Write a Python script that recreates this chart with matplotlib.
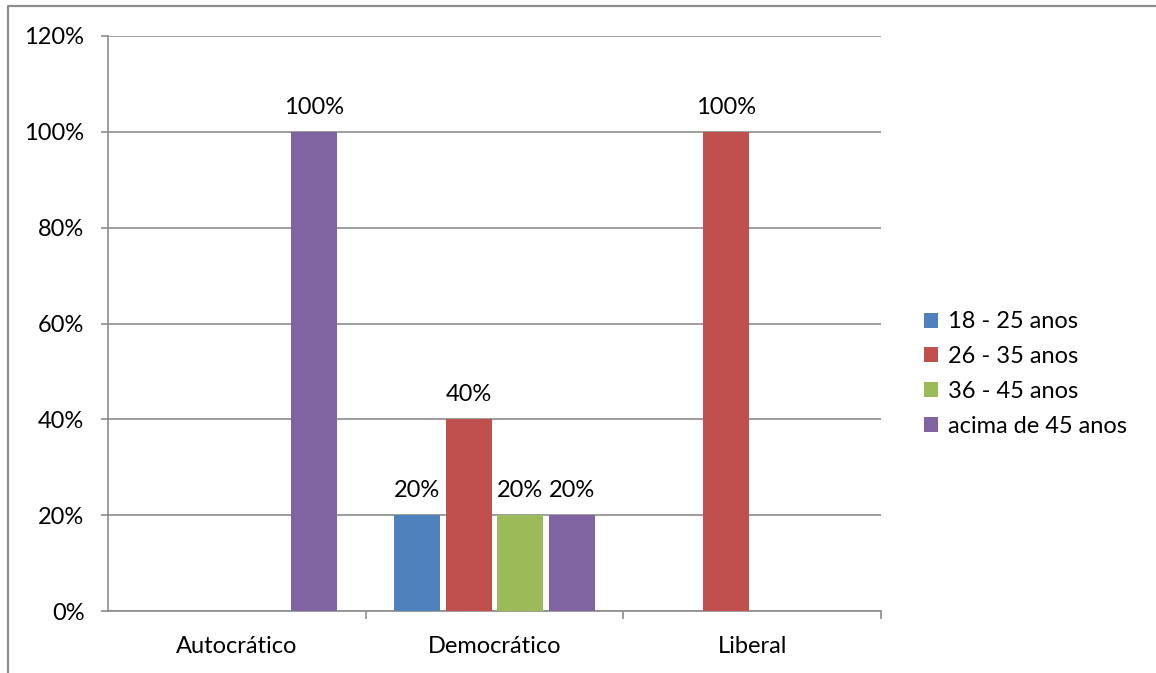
import numpy as np
import matplotlib.pyplot as plt
from matplotlib.lines import Line2D

plt.rcParams['font.family'] = ['Lato', 'DejaVu Sans']

categories = ['Autocrático', 'Democrático', 'Liberal']
series_names = ['18 - 25 anos', '26 - 35 anos', '36 - 45 anos', 'acima de 45 anos']
# blank cells are None (no bar, no label)
values = [
    [None, 20, None],
    [None, 40, 100],
    [None, 20, None],
    [100, 20, None],
]
colors = ['#4F81BD', '#C0504D', '#9BBB59', '#8064A2']
yticks = [0, 20, 40, 60, 80, 100, 120]

fig = plt.figure(figsize=(11.56, 6.73), dpi=100)
ax = fig.add_axes([108/1156, 1 - 611/673, (881-108)/1156, (611-36)/673])

x = np.arange(len(categories))
step = 0.2
width = 0.178
grid_c = '#8C8C8C'
fs = 17

for i, (name, vals, c) in enumerate(zip(series_names, values, colors)):
    offs = (i - 1.5) * step
    xs = [xx + offs for xx, v in zip(x, vals) if v is not None]
    hs = [v for v in vals if v is not None]
    bars = ax.bar(xs, hs, width=width, color=c, label=name, zorder=3)
    ax.bar_label(bars, labels=[f'{v}%' for v in hs], padding=10, fontsize=fs)

ax.set_xlim(-0.5, 2.5)
ax.set_ylim(0, 120)
ax.set_yticks(yticks)
ax.set_yticklabels([f'{t}%' for t in yticks], fontsize=fs)
ax.yaxis.grid(True, color=grid_c, linewidth=1.2, zorder=0)
ax.set_axisbelow(True)

ax.set_xticks(x)
ax.set_xticklabels(categories, fontsize=fs)
ax.tick_params(axis='x', length=0, pad=18)
ax.set_xticks([0.5, 1.5, 2.5], minor=True)
ax.tick_params(axis='x', which='minor', length=6, color=grid_c, width=1.2)
ax.tick_params(axis='y', length=5, color=grid_c, width=1.2, pad=12)

for side in ['top', 'right']:
    ax.spines[side].set_visible(False)
for side in ['left', 'bottom']:
    ax.spines[side].set_color(grid_c)
    ax.spines[side].set_linewidth(1.2)

ax.legend(loc='center left', bbox_to_anchor=(924/1156, 1 - 374/673),
          bbox_transform=fig.transFigure, frameon=False, borderpad=0,
          borderaxespad=0, fontsize=fs, handlelength=0.6, handleheight=0.6,
          handletextpad=0.4, labelspacing=0.58)

# outer chart frame
fig.add_artist(Line2D([8/1156, 8/1156, 1.0], [0.0, 1 - 6/673, 1 - 6/673],
                      transform=fig.transFigure, color='#8C8C8C', linewidth=1.6))

fig.savefig('out.png', dpi=100)
